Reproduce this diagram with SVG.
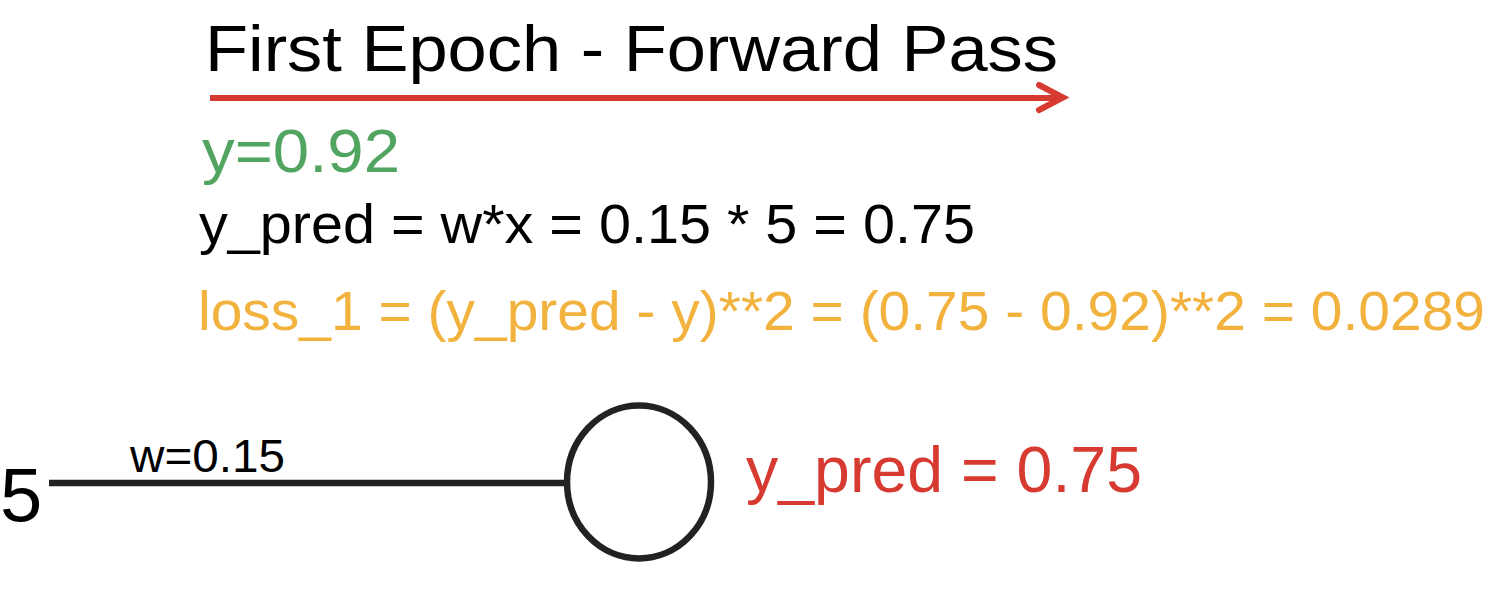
<svg xmlns="http://www.w3.org/2000/svg" width="1500" height="596" viewBox="0 0 1500 596">
<style>
text{font-family:"Liberation Sans",Arial,sans-serif}
.red{fill:#d73a31}
.green{fill:#52a461}
.orange{fill:#f2b23e}
.blk{fill:#000}
.stroke-red{stroke:#d73a31;fill:none;stroke-width:6}
.stroke-dark{stroke:#222;fill:none;stroke-width:6.5}
</style>
<rect width="1500" height="596" fill="#fff"/>
<g id="title">
<text class="blk" x="205" y="71" font-size="64" textLength="853" lengthAdjust="spacingAndGlyphs">First Epoch - Forward Pass</text>
<path class="stroke-red" d="M210,98 H1062"/>
<path class="stroke-red" d="M1039,85 L1063,97.5 L1039,110" stroke-linecap="round" stroke-linejoin="miter"/>
</g>
<g id="equations">
<text class="green" x="202" y="172" font-size="61" textLength="198" lengthAdjust="spacingAndGlyphs">y=0.92</text>
<text class="blk" x="199" y="243" font-size="56" textLength="776" lengthAdjust="spacingAndGlyphs">y_pred = w*x = 0.15 * 5 = 0.75</text>
<text class="orange" x="198" y="330" font-size="56" textLength="1287" lengthAdjust="spacingAndGlyphs">loss_1 = (y_pred - y)**2 = (0.75 - 0.92)**2 = 0.0289</text>
</g>
<g id="connectors">
<path class="stroke-dark" d="M49,483 H567"/>
</g>
<g id="input">
<text class="blk" x="0" y="521" font-size="76">5</text>
</g>
<g id="weight-label">
<text class="blk" x="130" y="472" font-size="47" textLength="155" lengthAdjust="spacingAndGlyphs">w=0.15</text>
</g>
<g id="neuron">
<ellipse class="stroke-dark" cx="639" cy="482" rx="72" ry="76.5"/>
</g>
<g id="output">
<text class="red" x="746" y="492" font-size="65" textLength="396" lengthAdjust="spacingAndGlyphs">y_pred = 0.75</text>
</g>
</svg>
